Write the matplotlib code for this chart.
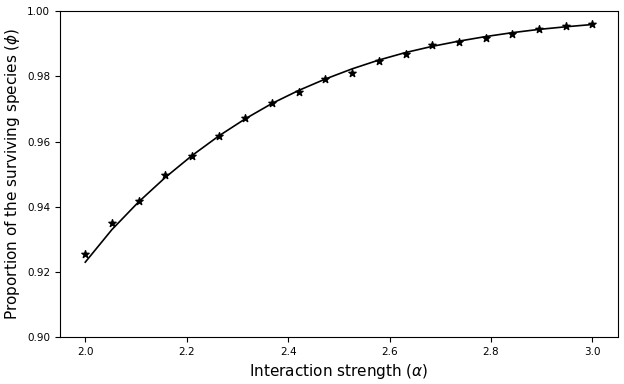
import matplotlib.pyplot as plt

# Simulated points (stars)
alpha_pts = [2.0, 2.0526, 2.1053, 2.1579, 2.2105, 2.2632, 2.3158, 2.3684, 2.4211, 2.4737,
             2.5263, 2.5789, 2.6316, 2.6842, 2.7368, 2.7895, 2.8421, 2.8947, 2.9474, 3.0]
phi_pts = [0.9255, 0.9350, 0.9417, 0.9497, 0.9555, 0.9617, 0.9672, 0.9718, 0.9752, 0.9791,
           0.9811, 0.9846, 0.9868, 0.9895, 0.9904, 0.9918, 0.9929, 0.9944, 0.9953, 0.9960]

# Theory curve
phi_line = [0.9230, 0.9330, 0.9415, 0.9490, 0.9557, 0.9617, 0.9670, 0.9717, 0.9757, 0.9792,
            0.9823, 0.9850, 0.9873, 0.9892, 0.9908, 0.9922, 0.9934, 0.9944, 0.9952, 0.9959]

plt.figure(figsize=(6.24, 3.84), dpi=100)
plt.plot(alpha_pts, phi_line, color='black', linewidth=1.2)
plt.scatter(alpha_pts, phi_pts, color='black', marker='*', s=30, zorder=3)

plt.ylim(0.90, 1.00)
plt.xlim(1.95, 3.05)
plt.xticks([2.0, 2.2, 2.4, 2.6, 2.8, 3.0], fontsize=7.5)
plt.yticks([0.90, 0.92, 0.94, 0.96, 0.98, 1.00], fontsize=7.5)
plt.xlabel(r'Interaction strength ($\alpha$)', fontsize=11)
plt.ylabel(r'Proportion of the surviving species ($\phi$)', fontsize=11)

plt.subplots_adjust(left=0.096, right=0.99, top=0.971, bottom=0.122)
plt.savefig('out.png', dpi=100)
